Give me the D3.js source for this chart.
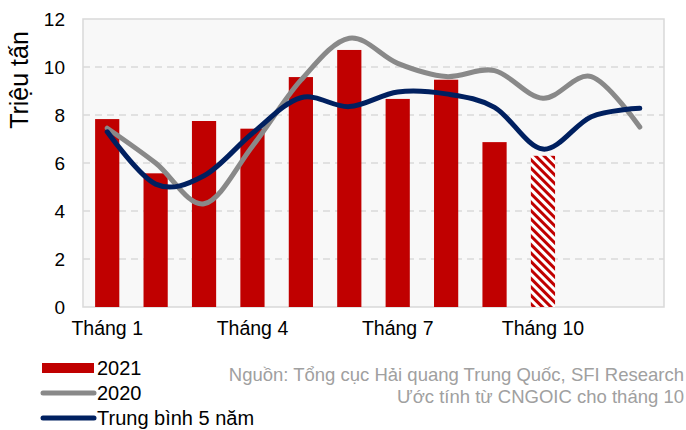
<!DOCTYPE html>
<html>
<head>
<meta charset="utf-8">
<script src="https://cdn.jsdelivr.net/npm/d3@7"></script>
<style>
  html, body { margin: 0; padding: 0; background: #ffffff; }
  svg { display: block; font-family: "Liberation Sans", Arial, sans-serif; }
</style>
</head>
<body>
<svg id="chart" width="686" height="430"></svg>
<script>
// ---- data ----
const months = ["Tháng 1","Tháng 2","Tháng 3","Tháng 4","Tháng 5","Tháng 6",
                "Tháng 7","Tháng 8","Tháng 9","Tháng 10","Tháng 11","Tháng 12"];
const xTickLabels = ["Tháng 1","Tháng 4","Tháng 7","Tháng 10"];
const values2021 = [7.83, 5.57, 7.75, 7.43, 9.58, 10.71, 8.67, 9.47, 6.87, 6.3, null, null];
const estimatedMonths = ["Tháng 10"];
const values2020 = [7.45, 6.0, 4.3, 6.7, 9.45, 11.2, 10.15, 9.6, 9.85, 8.7, 9.6, 7.5];
const valuesAvg5 = [7.3, 5.12, 5.47, 7.24, 8.72, 8.35, 8.96, 8.88, 8.32, 6.58, 7.93, 8.28];
const yTicks = [0, 2, 4, 6, 8, 10, 12];
const legendLabels = ["2021", "2020", "Trung bình 5 năm"];
const sourceLines = ["Nguồn: Tổng cục Hải quang Trung Quốc, SFI Research",
                     "Ước tính từ CNGOIC cho tháng 10"];
const yTitle = "Triệu tấn";

// ---- layout ----
const svg = d3.select("#chart");
const plot = { left: 83, right: 664, top: 19, bottom: 307 };
const colors = { bar: "#C00000", y2020: "#898989", avg: "#002060" };

const x = d3.scaleBand().domain(months).range([plot.left, plot.right]).paddingInner(0.5).paddingOuter(0.25);
const y = d3.scaleLinear().domain([0, 12]).range([plot.bottom, plot.top]);

// hatch pattern
const defs = svg.append("defs");
const pat = defs.append("pattern")
  .attr("id", "hatch").attr("patternUnits", "userSpaceOnUse")
  .attr("width", 6).attr("height", 6)
  .attr("patternTransform", "rotate(45)");
pat.append("rect").attr("width", 6).attr("height", 6).attr("fill", "#ffffff");
pat.append("rect").attr("x", 0).attr("y", 0).attr("width", 6).attr("height", 3).attr("fill", colors.bar);

// plot background
svg.append("rect")
  .attr("x", plot.left).attr("y", plot.top)
  .attr("width", plot.right - plot.left).attr("height", plot.bottom - plot.top)
  .attr("fill", "#F8F8F8").attr("stroke", "#D9D9D9").attr("stroke-width", 1.5);

// gridlines
svg.append("g").selectAll("line")
  .data(yTicks.filter(t => t > 0 && t < 12))
  .join("line")
  .attr("x1", plot.left).attr("x2", plot.right)
  .attr("y1", d => y(d)).attr("y2", d => y(d))
  .attr("stroke", "#D9D9D9").attr("stroke-width", 1.3)
  .attr("stroke-dasharray", "7,5");

// y axis
const yAxis = d3.axisLeft(y).tickValues(yTicks).tickSize(0).tickPadding(18).tickFormat(d3.format("d"));
const gy = svg.append("g").attr("transform", `translate(${plot.left},0)`).call(yAxis);
gy.select(".domain").remove();
gy.selectAll("text").attr("font-size", 19).attr("fill", "#000").attr("font-family", "Liberation Sans, Arial, sans-serif");

// x axis
const xAxis = d3.axisBottom(x).tickValues(xTickLabels).tickSize(0).tickPadding(14);
const gx = svg.append("g").attr("transform", `translate(0,${plot.bottom})`).call(xAxis);
gx.select(".domain").remove();
gx.selectAll("text").attr("font-size", 19.5).attr("fill", "#000").attr("font-family", "Liberation Sans, Arial, sans-serif");

// y title
svg.append("text")
  .attr("transform", `translate(28,80) rotate(-90)`)
  .attr("text-anchor", "middle")
  .attr("font-size", 25).attr("fill", "#000")
  .text(yTitle);

// bars
const barData = months.map((m, i) => ({ m, v: values2021[i] })).filter(d => d.v != null);
svg.append("g").selectAll("rect")
  .data(barData)
  .join("rect")
  .attr("x", d => x(d.m))
  .attr("width", x.bandwidth())
  .attr("y", d => y(d.v))
  .attr("height", d => y(0) - y(d.v))
  .attr("fill", d => estimatedMonths.includes(d.m) ? "url(#hatch)" : colors.bar);

// lines
const line = d3.line()
  .x((d, i) => x(months[i]) + x.bandwidth() / 2)
  .y(d => y(d))
  .curve(d3.curveCatmullRom.alpha(0));

svg.append("path").datum(values2020)
  .attr("d", line).attr("fill", "none")
  .attr("stroke", colors.y2020).attr("stroke-width", 5)
  .attr("stroke-linecap", "round").attr("stroke-linejoin", "round");

svg.append("path").datum(valuesAvg5)
  .attr("d", line).attr("fill", "none")
  .attr("stroke", colors.avg).attr("stroke-width", 5)
  .attr("stroke-linecap", "round").attr("stroke-linejoin", "round");

// legend
const lg = svg.append("g");
const legendRows = [
  { label: legendLabels[0], type: "rect", color: colors.bar, cy: 368 },
  { label: legendLabels[1], type: "line", color: colors.y2020, cy: 393 },
  { label: legendLabels[2], type: "line", color: colors.avg, cy: 418 }
];
legendRows.forEach(r => {
  if (r.type === "rect") {
    lg.append("rect").attr("x", 42).attr("y", r.cy - 5).attr("width", 52).attr("height", 10).attr("fill", r.color);
  } else {
    lg.append("line").attr("x1", 43).attr("x2", 94).attr("y1", r.cy).attr("y2", r.cy)
      .attr("stroke", r.color).attr("stroke-width", 5).attr("stroke-linecap", "round");
  }
  lg.append("text").attr("x", 97).attr("y", r.cy + 7)
    .attr("font-size", 20).attr("fill", "#000").text(r.label);
});

// source
svg.append("g").selectAll("text")
  .data(sourceLines)
  .join("text")
  .attr("x", 684)
  .attr("y", (d, i) => 381 + i * 22)
  .attr("text-anchor", "end")
  .attr("font-size", 18.5)
  .attr("fill", "#A0A0A0")
  .text(d => d);
</script>
</body>
</html>
